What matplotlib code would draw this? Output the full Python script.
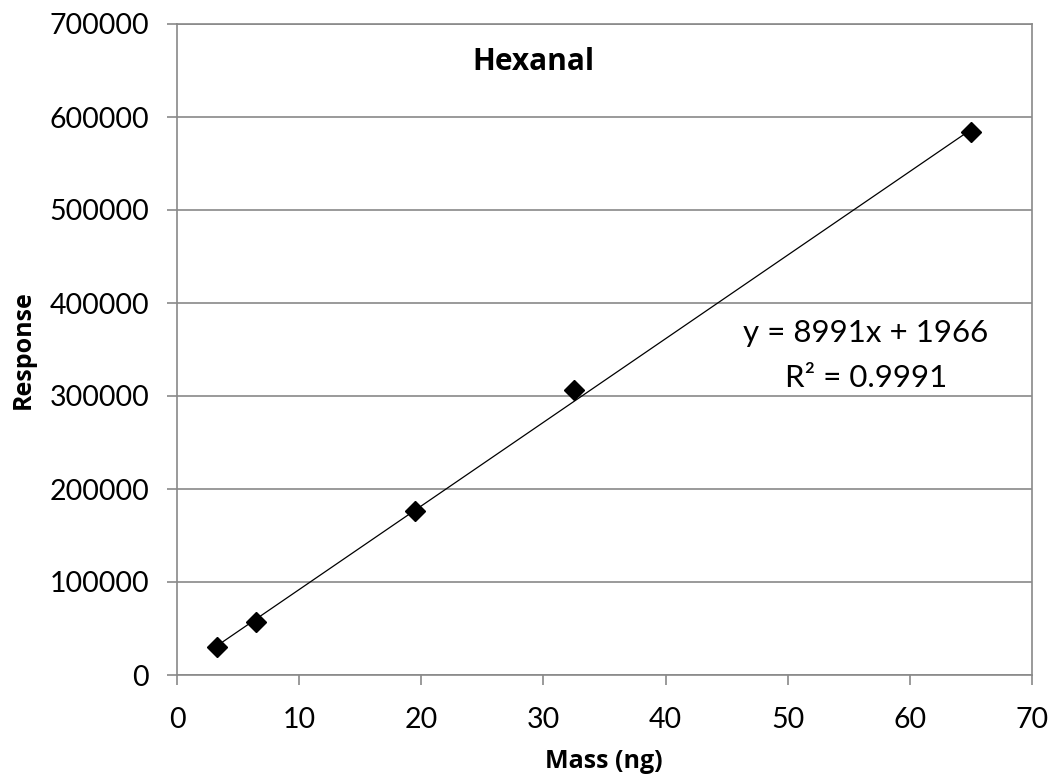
import matplotlib
matplotlib.use("Agg")
import matplotlib.pyplot as plt

mass = [3.25, 6.5, 19.5, 32.5, 65.0]
response = [30500, 57000, 176500, 306000, 583500]
slope = 8991
intercept = 1966
r2 = 0.9991
xticks = [0, 10, 20, 30, 40, 50, 60, 70]
yticks = [0, 100000, 200000, 300000, 400000, 500000, 600000, 700000]
title = "Hexanal"

fig = plt.figure(figsize=(10.54, 7.81), dpi=100)
ax = fig.add_axes([177/1054, 1-675/781, (1032-177)/1054, (675-24)/781])

grid_c = "#898989"
ax.set_xlim(0, 70)
ax.set_ylim(0, 700000)
ax.set_xticks(xticks)
ax.set_yticks(yticks)
ax.set_xticklabels([str(v) for v in xticks], fontfamily="Lato", fontsize=20.5)
ax.set_yticklabels([str(v) for v in yticks], fontfamily="Lato", fontsize=20.5)
ax.yaxis.grid(True, color=grid_c, linewidth=1.2)
ax.set_axisbelow(True)
for s in ["top", "right", "left", "bottom"]:
    ax.spines[s].set_color(grid_c)
    ax.spines[s].set_linewidth(1.2)
ax.tick_params(axis="both", direction="out", color=grid_c, length=7, width=1.2)
ax.tick_params(axis="y", pad=13)
ax.tick_params(axis="x", pad=16)

xfit = [mass[0], mass[-1]]
yfit = [slope * v + intercept for v in xfit]
ax.plot(xfit, yfit, color="black", linewidth=0.9, zorder=3)
ax.plot(mass, response, linestyle="none", marker="D", markersize=10.5,
        color="black", zorder=4)

ax.set_xlabel("Mass (ng)", fontfamily="Open Sans", fontweight="bold", fontsize=18)
ax.xaxis.label.set_va("baseline")
ax.xaxis.set_label_coords(0.4994, (675-768)/651)
ax.set_ylabel("Response", fontfamily="Open Sans", fontweight="bold", fontsize=18)
ax.yaxis.label.set_va("center")
ax.yaxis.set_label_coords((23-177)/855, 0.5)

fig.text(533/1054, 1-70/781, title, ha="center", va="baseline",
         fontfamily="Open Sans", fontweight="bold", fontsize=21.5)
fig.text(866/1054, 1-341.7/781, f"y = {slope}x + {intercept}",
         ha="center", va="baseline", fontfamily="Lato", fontsize=22.5)
fig.text(866/1054, 1-387/781, f"R² = {r2}",
         ha="center", va="baseline", fontfamily="Lato", fontsize=22.5)

fig.savefig("out.png", dpi=100)
